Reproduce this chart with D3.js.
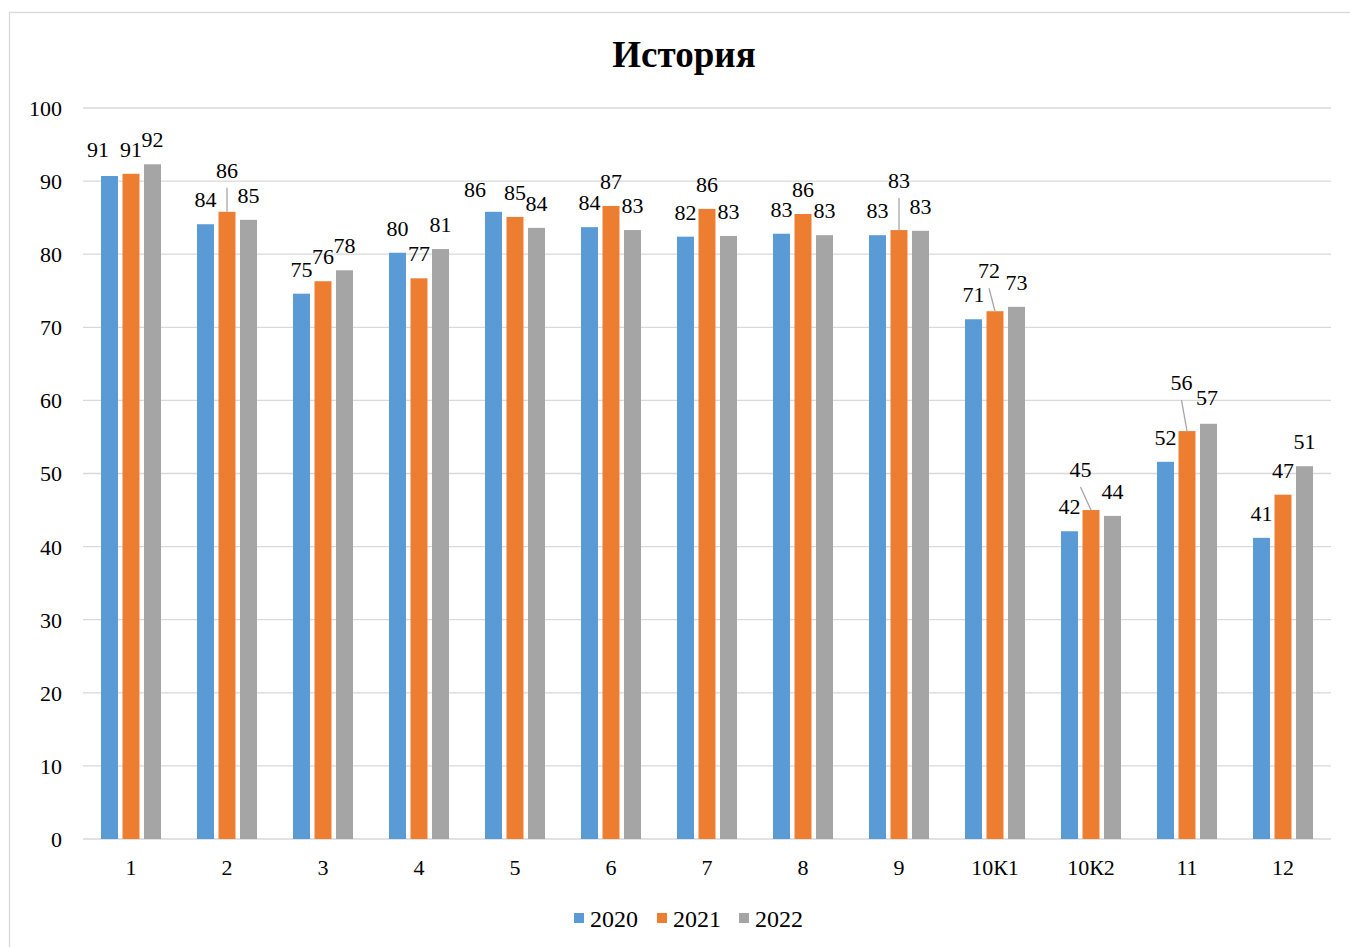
<!DOCTYPE html>
<html>
<head>
<meta charset="utf-8">
<script src="https://cdn.jsdelivr.net/npm/d3@7"></script>
<style>
  html, body { margin: 0; padding: 0; background: #fff; }
  svg { display: block; }
  text { font-family: "Liberation Serif", "Times New Roman", serif; fill: #000; }
</style>
</head>
<body>
<svg id="chart" width="1350" height="947"></svg>
<script>
const title = "История";
const categories = ["1", "2", "3", "4", "5", "6", "7", "8", "9", "10К1", "10К2", "11", "12"];
const seriesNames = ["2020", "2021", "2022"];
const values2020 = [90.7, 84.1, 74.6, 80.2, 85.8, 83.7, 82.4, 82.8, 82.6, 71.1, 42.1, 51.6, 41.2];
const values2021 = [91.0, 85.8, 76.3, 76.7, 85.1, 86.6, 86.2, 85.5, 83.3, 72.2, 45.0, 55.8, 47.1];
const values2022 = [92.3, 84.7, 77.8, 80.7, 83.6, 83.3, 82.5, 82.6, 83.2, 72.8, 44.2, 56.8, 51.0];
const yTicks = [0, 10, 20, 30, 40, 50, 60, 70, 80, 90, 100];

// label nudges (pixel offsets from default position) mimicking the reference's label layout
const labelNudges = {
  "2020|1": { dx: -11.5, dy: -2 },
  "2021|2": { dx: 0, dy: -17, leader: true },
  "2020|5": { dx: -18.5, dy: 2 },
  "2021|9": { dx: 0, dy: -25, leader: true },
  "2021|10К1": { dx: -6, dy: -16, leader: true },
  "2021|10К2": { dx: -10.5, dy: -16, leader: true },
  "2021|11": { dx: -5.5, dy: -24, leader: true },
  "2022|11": { dx: -1.5, dy: -2 }
};

const colors = { "2020": "#5b9bd5", "2021": "#ed7d31", "2022": "#a5a5a5" };
const seriesValues = { "2020": values2020, "2021": values2021, "2022": values2022 };

const svg = d3.select("#chart");

// outer border
svg.append("rect")
  .attr("x", 9.5).attr("y", 12.5)
  .attr("width", 1400).attr("height", 1000)
  .attr("fill", "#fff").attr("stroke", "#d9d9d9").attr("stroke-width", 1.3);

const plot = { left: 83, right: 1331, top: 108, bottom: 839 };

const x0 = d3.scaleBand().domain(categories)
  .range([plot.left, plot.right])
  .paddingInner(0.328).paddingOuter(0.164);
const x1 = d3.scaleBand().domain(seriesNames)
  .range([0, x0.bandwidth()])
  .paddingInner(0.21).paddingOuter(0.105);
const y = d3.scaleLinear().domain([0, 100]).range([plot.bottom, plot.top]);

// gridlines
svg.append("g").selectAll("line").data(yTicks.filter(t => t > 0)).join("line")
  .attr("x1", plot.left).attr("x2", plot.right)
  .attr("y1", d => y(d)).attr("y2", d => y(d))
  .attr("stroke", "#d9d9d9").attr("stroke-width", 1.3);

// y axis labels
const yAxis = d3.axisLeft(y).tickValues(yTicks).tickSize(0).tickPadding(0);
const yg = svg.append("g").attr("transform", `translate(${plot.left - 21},0)`).call(yAxis);
yg.select(".domain").remove();
yg.selectAll("text").attr("font-size", 22).attr("font-family", "Liberation Serif").attr("fill", "#000").attr("dy", "0.34em");

// x axis
const xAxis = d3.axisBottom(x0).tickSize(0).tickPadding(0);
const xg = svg.append("g").attr("transform", `translate(0,${plot.bottom})`).call(xAxis);
xg.select(".domain").remove();
xg.selectAll("text").attr("font-size", 22).attr("font-family", "Liberation Serif").attr("fill", "#000")
  .attr("y", 36).attr("dy", 0);
svg.append("line")
  .attr("x1", plot.left).attr("x2", plot.right)
  .attr("y1", y(0)).attr("y2", y(0))
  .attr("stroke", "#d9d9d9").attr("stroke-width", 1.5);

// bars
const flat = [];
categories.forEach((c, i) => {
  seriesNames.forEach(s => flat.push({ cat: c, series: s, value: seriesValues[s][i] }));
});

svg.append("g").selectAll("rect").data(flat).join("rect")
  .attr("x", d => x0(d.cat) + x1(d.series))
  .attr("y", d => y(d.value))
  .attr("width", x1.bandwidth())
  .attr("height", d => y(0) - y(d.value))
  .attr("fill", d => colors[d.series]);

// labels
const lab = svg.append("g");
flat.forEach(d => {
  const cx = x0(d.cat) + x1(d.series) + x1.bandwidth() / 2;
  const top = y(d.value);
  const n = labelNudges[d.series + "|" + d.cat] || { dx: 0, dy: 0 };
  const lx = cx + n.dx;
  const ly = top - 17 + n.dy;
  if (n.leader) {
    lab.append("line")
      .attr("x1", lx).attr("y1", ly + 10)
      .attr("x2", cx).attr("y2", top)
      .attr("stroke", "#a6a6a6").attr("stroke-width", 1.3);
  }
  lab.append("text")
    .attr("x", lx).attr("y", ly)
    .attr("text-anchor", "middle")
    .attr("font-size", 22)
    .text(d3.format(".0f")(d.value));
});

// title
svg.append("text")
  .attr("x", 684).attr("y", 67)
  .attr("text-anchor", "middle")
  .attr("font-size", 37).attr("font-weight", "bold")
  .text(title);

// legend
const legendItems = [
  { s: "2020", x: 574 },
  { s: "2021", x: 657 },
  { s: "2022", x: 739 }
];
const lg = svg.append("g");
legendItems.forEach(it => {
  lg.append("rect").attr("x", it.x).attr("y", 913).attr("width", 10).attr("height", 10)
    .attr("fill", colors[it.s]);
  lg.append("text").attr("x", it.x + 16).attr("y", 927)
    .attr("font-size", 24).text(it.s);
});
</script>
</body>
</html>
